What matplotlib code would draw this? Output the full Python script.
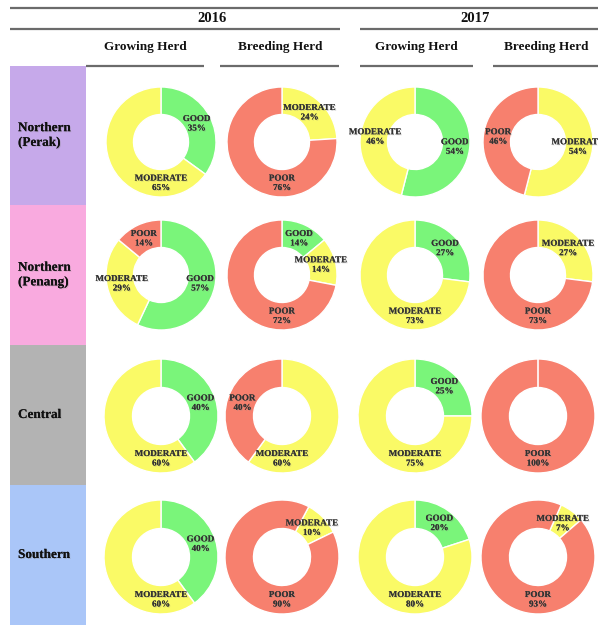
import numpy as np
import matplotlib
matplotlib.use("Agg")
import matplotlib.pyplot as plt
import matplotlib.patheffects as pe
from matplotlib.patches import Rectangle
from matplotlib.lines import Line2D

plt.rcParams['font.family'] = ['Liberation Serif', 'DejaVu Serif']

# herd condition shares (%) per region, order: GOOD, MODERATE, POOR
regions = ['Northern\n(Perak)', 'Northern\n(Penang)', 'Central', 'Southern']
years = ['2016', '2017']
herds = ['Growing Herd', 'Breeding Herd']
categories = ['GOOD', 'MODERATE', 'POOR']

growing_2016 = [[35, 65, 0], [57, 29, 14], [40, 60, 0], [40, 60, 0]]
breeding_2016 = [[0, 24, 76], [14, 14, 72], [0, 60, 40], [0, 10, 90]]
growing_2017 = [[54, 46, 0], [27, 73, 0], [25, 75, 0], [20, 80, 0]]
breeding_2017 = [[0, 54, 46], [0, 27, 73], [0, 0, 100], [0, 7, 93]]

columns = [growing_2016, breeding_2016, growing_2017, breeding_2017]

cat_colors = ['#7af57a', '#fafa66', '#f7806e']
region_colors = ['#c6a9ea', '#f9aadf', '#b3b3b3', '#aac6f8']

W, H = 598, 625
fig = plt.figure(figsize=(W / 100, H / 100), dpi=100)
fig.patch.set_facecolor('white')

# overlay axes in pixel coordinates (y down) for headers and region boxes
bg = fig.add_axes([0, 0, 1, 1])
bg.set_xlim(0, W)
bg.set_ylim(H, 0)
bg.axis('off')

shadow = [pe.withSimplePatchShadow(offset=(0.7, -0.7), shadow_rgbFace='#888888', alpha=0.35),
          pe.Normal()]

line_kw = dict(color='#6b6b6b', lw=1.6, solid_capstyle='butt')
bg.add_line(Line2D([10, W], [8, 8], **line_kw))
bg.add_line(Line2D([10, 340], [29, 29], **line_kw))
bg.add_line(Line2D([360, W], [29, 29], **line_kw))

year_x = [212, 475]
for x, y in zip(year_x, years):
    bg.text(x, 19, y, ha='center', va='center', fontsize=10.5, fontweight='bold', color='#111111')

col_x = [161, 282, 415, 538]
head_x = [145, 280, 416, 546]
col_lines = [(86, 204), (220, 339), (360, 473), (493, W)]
for i, (x0, x1) in enumerate(col_lines):
    bg.text(head_x[i], 47, herds[i % 2], ha='center', va='center', fontsize=9.5,
            fontweight='bold', color='#111111')
    bg.add_line(Line2D([x0, x1], [66, 66], **line_kw))

row_bounds = [66, 205, 345, 485, 625]
row_y = [142, 275, 416, 557]
row_r = [55, 55, 57, 57]
for i, name in enumerate(regions):
    y0, y1 = row_bounds[i], row_bounds[i + 1]
    bg.add_patch(Rectangle((10, y0), 76, y1 - y0, facecolor=region_colors[i], edgecolor='none'))
    bg.text(18, (y0 + y1) / 2, name, ha='left', va='center', fontsize=9.5,
            fontweight='bold', color='#111111', linespacing=1.3, path_effects=shadow)

# first-slice angle of each donut (degrees, counted clockwise)
start_angles = [[90, 90, 90, 90],
                [90, 90, 90, 90],
                [90, 90, 90, 90],
                [90, 62, 90, 66]]

for c, data in enumerate(columns):
    for r, vals in enumerate(data):
        cx, cy, rad = col_x[c], row_y[r], row_r[r]
        ax = fig.add_axes([(cx - rad) / W, 1 - (cy + rad) / H, 2 * rad / W, 2 * rad / H])
        keep = [k for k, v in enumerate(vals) if v > 0]
        sizes = [vals[k] for k in keep]
        ax.pie(sizes, colors=[cat_colors[k] for k in keep], startangle=start_angles[r][c],
               counterclock=False, radius=1,
               wedgeprops=dict(width=0.5, edgecolor='white', linewidth=1.0))
        ax.set_xlim(-1, 1)
        ax.set_ylim(-1, 1)
        ax.axis('off')
        a0 = np.deg2rad(start_angles[r][c])
        if len(sizes) == 1:
            # seam of a full ring
            ax.plot([0.5 * np.cos(a0), np.cos(a0)], [0.5 * np.sin(a0), np.sin(a0)],
                    color='white', lw=1.2)
        # labels: mid-angle of slice, large slices sit at the bottom
        theta = start_angles[r][c]
        for k, v in zip(keep, sizes):
            span = v / 100 * 360
            mid = np.deg2rad(theta - span / 2)
            theta -= span
            if v >= 60:
                lx, ly = 0.0, -0.75
            else:
                lx, ly = 0.73 * np.cos(mid), 0.73 * np.sin(mid)
            ax.text(lx, ly, f'{categories[k]}\n{v}%', ha='center', va='center',
                    fontsize=6.5, fontweight='bold', color='#333333',
                    linespacing=1.25, clip_on=False, path_effects=shadow)

fig.savefig('out.png', dpi=100, facecolor='white')
